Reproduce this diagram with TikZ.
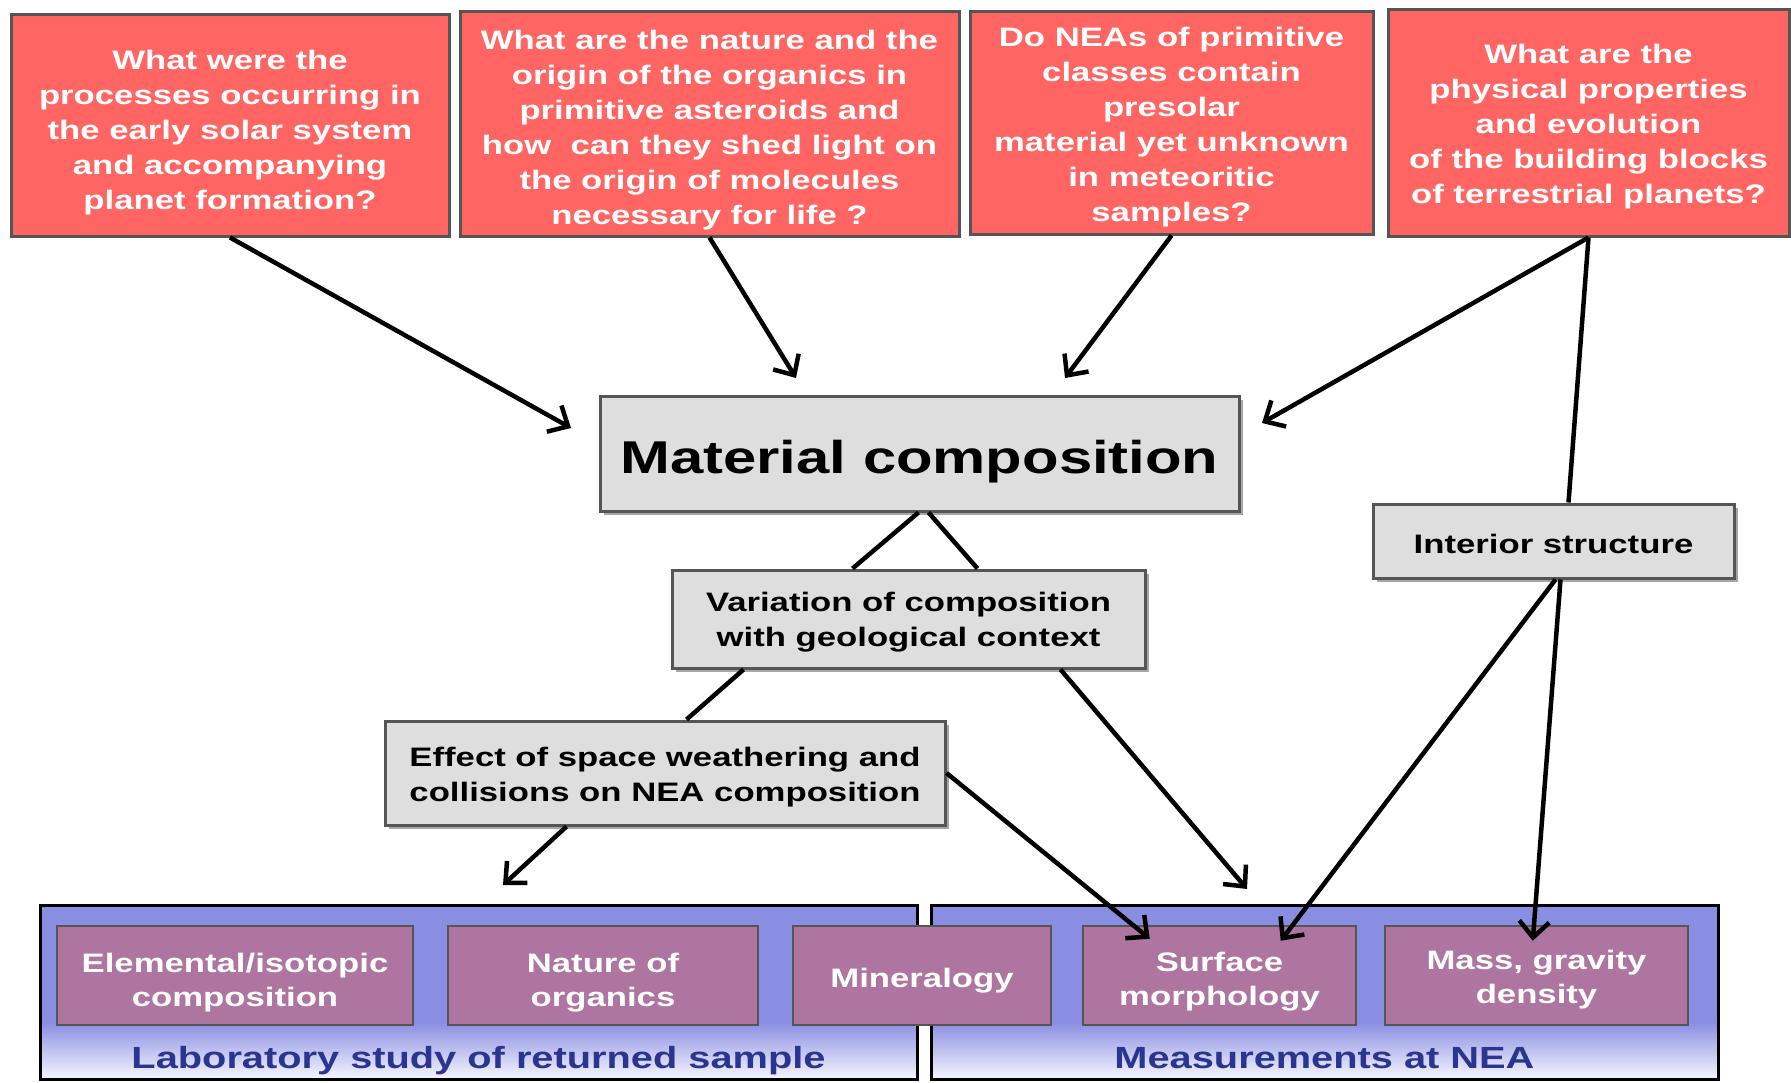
\documentclass[tikz,border=0pt]{standalone}
\usepackage{fontspec}
\setmainfont{Liberation Sans}[FakeStretch=1.3]
\usetikzlibrary{arrows.meta,shadows,calc}
\definecolor{qred}{HTML}{FF6663}
\definecolor{qborder}{HTML}{555555}
\definecolor{boxgray}{HTML}{DEDEDE}
\definecolor{mauve}{HTML}{AD75A0}
\definecolor{panelblue}{HTML}{8A8EE2}
\definecolor{navy}{HTML}{2B3590}
\newcommand{\dn}[1]{\rule{0pt}{#1pt}}
\begin{document}
\begin{tikzpicture}[x=1pt,y=-1pt,
  redbox/.style={draw=qborder, line width=3pt, fill=qred, text=white, align=center, inner sep=0pt,
    font=\bfseries\fontsize{26.7}{35}\selectfont},
  graybox/.style={draw=qborder, line width=3pt, fill=boxgray, text=black, align=center, inner sep=0pt,
    font=\bfseries\fontsize{26.7}{35}\selectfont,
    drop shadow={shadow xshift=4pt, shadow yshift=-4pt, opacity=0.35, fill=black}},
  mauvebox/.style={draw=qborder, line width=2.5pt, fill=mauve, text=white, align=center, inner sep=0pt,
    minimum height=99pt, font=\bfseries\fontsize{26.7}{34}\selectfont},
  panellabel/.style={text=navy, inner sep=0pt, anchor=base, font=\bfseries\fontsize{30.6}{34}\selectfont},
  conn/.style={line width=4.5pt, black},
  arr/.style={conn, -{Straight Barb[length=16pt,width=30pt,line width=4.5pt]}}
]
\useasboundingbox (0,0) rectangle (1791,1082);
\fill[white] (0,0) rectangle (1791,1082);

% question boxes
\node[redbox, minimum width=438pt, minimum height=222pt] (q1) at (230,125)
  {\dn{35}What were the\\processes occurring in\\the early solar system\\and accompanying\\planet formation?};
\node[redbox, minimum width=499pt, minimum height=225pt] (q2) at (709.5,123.5)
  {\dn{33}What are the nature and the\\origin of the organics in\\primitive asteroids and\\how\ \ can they shed light on\\the origin of molecules\\necessary for life ?};
\node[redbox, minimum width=403pt, minimum height=223pt] (q3) at (1171.5,122.5)
  {\dn{28}Do NEAs of primitive\\classes contain\\presolar\\material yet unknown\\in meteoritic\\samples?};
\node[redbox, minimum width=401pt, minimum height=227pt] (q4) at (1588.5,122.5)
  {\dn{28}What are the\\physical properties\\and evolution\\of the building blocks\\of terrestrial planets?};

% bottom panels
\fill[panelblue] (40,905) rectangle (917,1079);
\shade[top color=panelblue, bottom color=white!92!panelblue] (40,1022) rectangle (917,1079);
\draw[line width=3pt, black] (40,905) rectangle (917,1079);
\fill[panelblue] (931,905) rectangle (1718,1079);
\shade[top color=panelblue, bottom color=white!92!panelblue] (931,1022) rectangle (1718,1079);
\draw[line width=3pt, black] (931,905) rectangle (1718,1079);
\node[panellabel] (lablab) at (478.5,1068) {Laboratory study of returned sample};
\node[panellabel] (labnea) at (1324.5,1068) {Measurements at NEA};

% measurement boxes
\node[mauvebox, minimum width=356pt] (elem) at (235,975.5) {\dn{33}Elemental/isotopic\\composition};
\node[mauvebox, minimum width=310pt] (nat) at (603,975.5) {\dn{33}Nature of\\organics};
\node[mauvebox, minimum width=258pt] (mine) at (922,975.5) {\dn{30}Mineralogy};
\node[mauvebox, minimum width=273pt] (surf) at (1219.5,975.5) {\dn{32}Surface\\morphology};
\node[mauvebox, minimum width=303pt] (mass) at (1536.5,975.5) {\dn{28}Mass, gravity\\density};

% grey boxes
\node[graybox, minimum width=639pt, minimum height=115pt, font=\bfseries\fontsize{46}{50}\selectfont] (mat) at (919.5,453.5) {\dn{49}Material composition};
\node[graybox, minimum width=361pt, minimum height=74pt] (int) at (1553.5,541) {\dn{26}Interior structure};
\node[graybox, minimum width=473pt, minimum height=98pt] (var) at (908.5,619) {\dn{26}Variation of composition\\with geological context};
\node[graybox, minimum width=560pt, minimum height=104pt] (eff) at (665,773) {\dn{28}Effect of space weathering and\\collisions on NEA composition};

% free ends
\coordinate (e1) at (571,428);
\coordinate (e2) at (796,378);
\coordinate (e3) at (1065,378);
\coordinate (e4) at (1262,423);
\coordinate (elab) at (503,885);
\coordinate (enea) at (1247,889);

% connectors
\draw[arr] (q1.south) -- (e1);
\draw[arr] (q2.south) -- (e2);
\draw[arr] (q3.south) -- (e3);
\draw[arr] (q4.south) -- (e4);
\draw[conn] (q4.south) -- ($(int.north)+(15,0)$);
\draw[conn] ($(mat.south)+(-1,0)$) -- ($(var.north west)+(182,0)$);
\draw[conn] ($(mat.south)+(9,0)$) -- ($(var.north west)+(307,0)$);
\draw[conn] ($(var.south west)+(73,0)$) -- ($(eff.north west)+(303,0)$);
\draw[arr] ($(eff.south west)+(183,0)$) -- (elab);
\draw[arr] ($(var.south west)+(390,0)$) -- (enea);
\draw[arr] (eff.east) -- ($(surf.north west)+(68,14)$);
\draw[arr] ($(int.south)+(2,0)$) -- ($(surf.north west)+(199,16)$);
\draw[arr] ($(int.south)+(7,0)$) -- ($(mass.north west)+(149,16)$);
\end{tikzpicture}
\end{document}
